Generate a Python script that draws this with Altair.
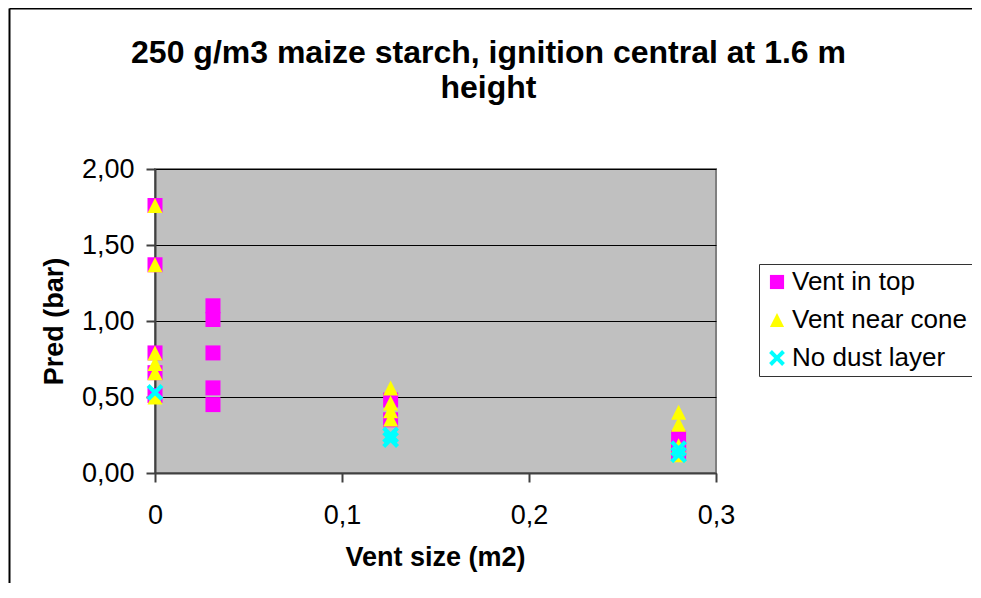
import altair as alt
import pandas as pd

series_names = ["Vent in top", "Vent near cone", "No dust layer"]
series_colors = ["#FF00FF", "#FFFF00", "#00FFFF"]

top_x = [0, 0, 0, 0, 0, 0.031, 0.031, 0.031, 0.031, 0.031, 0.126, 0.126, 0.28, 0.28, 0.28]
top_y = [1.76, 1.37, 0.79, 0.66, 0.51, 1.10, 1.01, 0.79, 0.56, 0.45, 0.48, 0.35, 0.23, 0.16, 0.13]
cone_x = [0, 0, 0, 0, 0, 0, 0.126, 0.126, 0.126, 0.126, 0.28, 0.28, 0.28, 0.28]
cone_y = [1.76, 1.37, 0.79, 0.72, 0.66, 0.50, 0.56, 0.46, 0.41, 0.355, 0.40, 0.32, 0.18, 0.12]
nodust_x = [0, 0.126, 0.126, 0.28, 0.28]
nodust_y = [0.53, 0.25, 0.22, 0.16, 0.12]

y_ticks = [0, 0.5, 1.0, 1.5, 2.0]
x_ticks = [0, 0.1, 0.2, 0.3]

rows = []
for name, xs, ys in zip(series_names, [top_x, cone_x, nodust_x], [top_y, cone_y, nodust_y]):
    for xv, yv in zip(xs, ys):
        rows.append({"series": name, "vent": xv, "pred": yv})
df = pd.DataFrame(rows)

FONT = "Liberation Sans, Arial, sans-serif"

SQUARE = "M-1,-1L1,-1L1,1L-1,1Z"
TRI = "M0,-1L1,1L-1,1Z"
a, d = 1.12, 0.4
XSHAPE = (f"M{-a},{-a+d}L{-a+d},{-a}L0,{-d}L{a-d},{-a}L{a},{-a+d}L{d},0"
          f"L{a},{a-d}L{a-d},{a}L0,{d}L{-a+d},{a}L{-a},{a-d}L{-d},0Z")

points = alt.Chart(df).mark_point(filled=True, opacity=1, strokeWidth=0, size=225).encode(
    x=alt.X("vent:Q", scale=alt.Scale(domain=[0, 0.3], nice=False),
            axis=alt.Axis(values=x_ticks, grid=False, title="Vent size (m2)", labelFlush=False,
                          labelExpr="datum.value == 0 ? '0' : replace(format(datum.value, '.1f'), '.', ',')",
                          titleX=280, titleY=84, titleBaseline="middle", titleAlign="center")),
    y=alt.Y("pred:Q", scale=alt.Scale(domain=[0, 2], nice=False),
            axis=alt.Axis(values=y_ticks, grid=True, title="Pred (bar)", labelFlush=False,
                          labelExpr="replace(format(datum.value, '.2f'), '.', ',')",
                          titleX=-101, titleY=152, titleBaseline="middle", titleAlign="center", titleAngle=-90)),
    color=alt.Color("series:N", scale=alt.Scale(domain=series_names, range=series_colors),
                    legend=alt.Legend(title=None, orient="none", legendX=604, legendY=95)),
    shape=alt.Shape("series:N", scale=alt.Scale(domain=series_names, range=[SQUARE, TRI, XSHAPE])),
    order=alt.Order("idx:Q"),
).transform_window(idx="row_number()")

frame_data = alt.Data(values=[{"a": 1}])
frame_left = alt.Chart(frame_data).mark_rule(color="#000000", strokeWidth=2).encode(
    x=alt.value(-145.5), y=alt.value(-160.5), y2=alt.value(1000))
frame_top = alt.Chart(frame_data).mark_rule(color="#000000", strokeWidth=2).encode(
    x=alt.value(-145.5), x2=alt.value(1200), y=alt.value(-160.5))

chart = alt.layer(frame_left, frame_top, points).properties(
    width=561, height=304,
    title=alt.TitleParams(
        text=["250 g/m3 maize starch, ignition central at 1.6 m", "height"],
        fontSize=32, fontWeight="bold", font=FONT, color="#000000",
        anchor="middle", dx=53, offset=-129, lineHeight=35, baseline="bottom",
    ),
    autosize=alt.AutoSizeParams(type="none"),
    padding={"left": 147, "top": 161, "right": 256, "bottom": 110},
).configure_view(
    fill="#C0C0C0", stroke="#808080", strokeWidth=2
).configure_axis(
    labelFont=FONT, labelFontSize=27, labelColor="#000000",
    titleFont=FONT, titleFontSize=27, titleFontWeight="bold", titleColor="#000000",
    domainColor="#404040", domainWidth=2, tickColor="#404040", tickWidth=2, tickSize=9,
    gridColor="#000000", gridWidth=1, gridOpacity=1, labelPadding=12,
).configure_axisX(labelPadding=20).configure_legend(
    labelFont=FONT, labelFontSize=26, labelColor="#000000", labelLimit=400,
    fillColor="#FFFFFF", strokeColor="#333333", strokeWidth=1,
    padding=5, rowPadding=12, symbolSize=200, symbolStrokeWidth=0, symbolOpacity=1,
    labelOffset=2, cornerRadius=0,
)

chart.save("out.html", embed_options={"renderer": "svg", "actions": False})
